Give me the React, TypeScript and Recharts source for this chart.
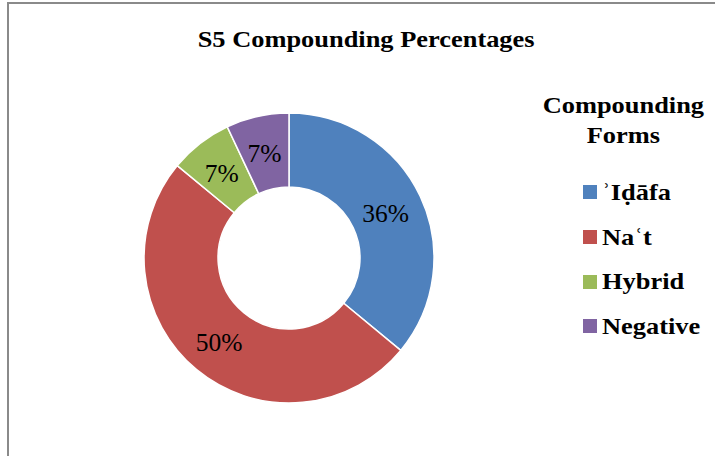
import { PieChart, Pie, Cell, Legend } from "recharts";

const forms = ["\u02BEI\u1E0D\u0101fa", "Na\u02BFt", "Hybrid", "Negative"];
const percents = [36, 50, 7, 7];
const colors = ["#4F81BD", "#C0504D", "#9BBB59", "#8064A2"];

const data = forms.map((name, i) => ({ name, value: percents[i] }));

const RAD = Math.PI / 180;
const serif = "'Liberation Serif', 'Times New Roman', serif";
// the source text is drawn a bit wide
const stretch = "scaleX(1.1)";

function renderLabel(props: any) {
  const { cx, cy, midAngle, innerRadius, outerRadius, value } = props;
  const r = (innerRadius + outerRadius) / 2;
  const x = cx + r * Math.cos(-midAngle * RAD);
  const y = cy + r * Math.sin(-midAngle * RAD);
  return (
    <text x={x - 1} y={y + 1} textAnchor="middle" dominantBaseline="central" fontFamily={serif} fontSize={25.5} fill="#000">
      {value}%
    </text>
  );
}

function LegendBox() {
  return (
    <div style={{ fontFamily: serif, fontWeight: "bold", fontSize: 24, color: "#000" }}>
      <div style={{ textAlign: "center", lineHeight: "30px" }}>
        <span style={{ display: "inline-block", transform: stretch }}>Compounding</span>
        <br />
        <span style={{ display: "inline-block", transform: stretch }}>Forms</span>
      </div>
      <div style={{ marginTop: 20, paddingLeft: 45 }}>
        {data.map((d, i) => (
          <div key={d.name} style={{ display: "flex", alignItems: "center", height: 44.7 }}>
            <span style={{ width: 14, height: 14, background: colors[i], marginRight: 5, display: "inline-block" }} />
            <span style={{ display: "inline-block", transform: stretch, transformOrigin: "left center" }}>{d.name}</span>
          </div>
        ))}
      </div>
    </div>
  );
}

export default function App() {
  return (
    <div style={{ position: "fixed", left: 0, top: 0, width: 715, height: 456, background: "#fff", overflow: "hidden" }}>
      <div
        style={{
          position: "absolute",
          left: 7,
          top: 2,
          width: 760,
          height: 500,
          border: "2px solid #8a8a8a",
          boxSizing: "border-box",
        }}
      />
      <div
        style={{
          position: "absolute",
          left: 0,
          top: 26,
          width: 732,
          textAlign: "center",
          fontFamily: serif,
          fontWeight: "bold",
          fontSize: 24,
          color: "#000",
        }}
      >
        <span style={{ display: "inline-block", transform: stretch }}>S5 Compounding Percentages</span>
      </div>
      <div style={{ position: "absolute", left: 0, top: 0 }}>
        <PieChart width={715} height={456} margin={{ top: 0, right: 0, bottom: 0, left: 0 }}>
          <Pie
            data={data}
            dataKey="value"
            nameKey="name"
            cx={289}
            cy={258}
            innerRadius={71}
            outerRadius={145}
            startAngle={90}
            endAngle={-270}
            stroke="#fff"
            strokeWidth={1.5}
            label={renderLabel}
            labelLine={false}
            isAnimationActive={false}
          >
            {data.map((d, i) => (
              <Cell key={d.name} fill={colors[i]} />
            ))}
          </Pie>
          <Legend
            layout="vertical"
            verticalAlign="top"
            align="right"
            wrapperStyle={{ left: 538, top: 90, width: 170 }}
            content={() => <LegendBox />}
          />
        </PieChart>
      </div>
    </div>
  );
}
